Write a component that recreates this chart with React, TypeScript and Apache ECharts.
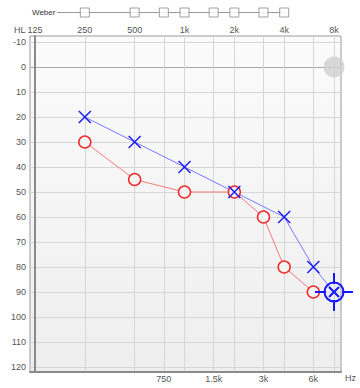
import React, { useEffect, useRef } from 'react';
import * as echarts from 'echarts';

// Frequency axis (Hz)
const octaveFreqs = [125, 250, 500, 1000, 2000, 4000, 8000];
const octaveLabels = ['125', '250', '500', '1k', '2k', '4k', '8k'];
const midFreqs = [750, 1500, 3000, 6000];
const midLabels = ['750', '1.5k', '3k', '6k'];
const gridFreqs = [125, 250, 500, 750, 1000, 1500, 2000, 3000, 4000, 6000, 8000];

// Hearing level axis (dB HL)
const hlMin = -10;
const hlMax = 120;
const hlStep = 10;

// Blue (X) series
const blueFreqs = [250, 500, 1000, 2000, 4000, 6000, 8000];
const blueHL = [20, 30, 40, 50, 60, 80, 90];

// Red (O) series
const redFreqs = [250, 500, 1000, 2000, 3000, 4000, 6000];
const redHL = [30, 45, 50, 50, 60, 80, 90];

// Grey marker
const greyFreqs = [8000];
const greyHL = [0];

// Weber row
const weberFreqs = [250, 500, 750, 1000, 1500, 2000, 3000, 4000];

const oct = (f: number) => Math.log2(f / 125);
const FONT = 'Liberation Sans, Arial, sans-serif';
const xMin = -0.1;
const xMax = 6.14;

const labelFor = (freqs: number[], labels: string[]) => (v: number) => {
  const i = freqs.findIndex((f) => Math.abs(oct(f) - v) < 1e-6);
  return i >= 0 ? labels[i] : '';
};

const xSymbol = 'path://M0,0L12,12M12,0L0,12';
const bigSymbol =
  'path://M28.5,19A9.5,9.5,0,1,1,9.5,19A9.5,9.5,0,1,1,28.5,19Z' +
  'M0,19L11,19M27,19L38,19M19,0L19,11M19,27L19,38' +
  'M14,14L24,24M24,14L14,24';

export default function App() {
  const ref = useRef<HTMLDivElement>(null);

  useEffect(() => {
    if (!ref.current) return;
    const chart = echarts.init(ref.current, null, { renderer: 'svg' });

    const hlCount = (hlMax - hlMin) / hlStep + 1;
    const splitColors: string[] = [];
    for (let i = 0; i < hlCount; i++) {
      splitColors.push(hlMin + i * hlStep === 0 ? '#a9a9a9' : '#d6d6d6');
    }

    const blueData: any[] = blueFreqs.map((f, i) => {
      const item: any = { value: [oct(f), blueHL[i]] };
      if (i === blueFreqs.length - 1) {
        item.symbol = bigSymbol;
        item.symbolSize = 38;
        item.itemStyle = { borderColor: '#1717ff', borderWidth: 2, color: 'rgba(0,0,0,0)' };
      }
      return item;
    });

    const option: any = {
      animation: false,
      textStyle: { fontFamily: FONT },
      grid: [
        // data grid
        { left: 30, right: 19, top: 42, bottom: 21, show: false },
        // weber row
        { left: 30, right: 19, top: 8, height: 9 },
        // frame
        {
          left: 30,
          right: 19,
          top: 36,
          bottom: 16,
          show: true,
          borderColor: '#9a9a9a',
          borderWidth: 1,
          backgroundColor: {
            type: 'linear',
            x: 0,
            y: 0,
            x2: 0,
            y2: 1,
            colorStops: [
              { offset: 0, color: '#fbfbfb' },
              { offset: 1, color: '#eeeeee' },
            ],
          },
        },
      ],
      xAxis: [
        {
          gridIndex: 0,
          type: 'value',
          position: 'top',
          min: xMin,
          max: xMax,
          axisLine: { show: false },
          axisTick: { show: false, customValues: octaveFreqs.map(oct) },
          axisLabel: {
            customValues: octaveFreqs.map(oct),
            formatter: labelFor(octaveFreqs, octaveLabels),
            fontSize: 9,
            color: '#555',
            margin: 8,
            fontFamily: FONT,
            showMinLabel: true,
            showMaxLabel: true,
          },
          splitLine: { show: false },
        },
        { gridIndex: 1, type: 'value', min: xMin, max: xMax, show: false },
        {
          gridIndex: 2,
          type: 'value',
          position: 'bottom',
          min: xMin,
          max: xMax,
          axisLine: { show: true, lineStyle: { color: '#8a8a8a', width: 2 } },
          axisTick: { show: false, customValues: gridFreqs.map(oct) },
          axisLabel: {
            customValues: midFreqs.map(oct),
            formatter: labelFor(midFreqs, midLabels),
            fontSize: 9,
            color: '#555',
            margin: 2,
            fontFamily: FONT,
          },
          splitLine: { show: true, lineStyle: { color: '#d6d6d6', width: 1 } },
        },
      ],
      yAxis: [
        {
          gridIndex: 0,
          type: 'value',
          inverse: true,
          min: hlMin,
          max: hlMax,
          interval: hlStep,
          axisLine: { show: false },
          axisTick: { show: false },
          axisLabel: {
            fontSize: 9,
            color: '#555',
            margin: 4,
            fontFamily: FONT,
            showMinLabel: true,
            showMaxLabel: true,
          },
          splitLine: {
            show: true,
            showMinLine: true,
            showMaxLine: true,
            lineStyle: { color: splitColors, width: 1 },
          },
        },
        { gridIndex: 1, type: 'value', min: 0, max: 1, show: false },
        {
          gridIndex: 2,
          type: 'value',
          min: 0,
          max: 1,
          axisLine: { show: true, lineStyle: { color: '#8a8a8a', width: 2 } },
          axisTick: { show: false },
          axisLabel: { show: false },
          splitLine: { show: false },
        },
      ],
      graphic: [
        {
          type: 'text',
          left: 14,
          top: 25,
          style: { text: 'HL', fill: '#555', font: `9px ${FONT}` },
        },
        {
          type: 'text',
          left: 345,
          top: 373,
          style: { text: 'Hz', fill: '#555', font: `9px ${FONT}` },
        },
        {
          type: 'text',
          left: 32,
          top: 8,
          style: { text: 'Weber', fill: '#333', font: `8px ${FONT}` },
        },
        {
          type: 'line',
          shape: { x1: 57, y1: 12.5, x2: 283, y2: 12.5 },
          style: { stroke: '#9a9a9a', lineWidth: 1 },
        },
      ],
      series: [
        {
          type: 'scatter',
          xAxisIndex: 1,
          yAxisIndex: 1,
          data: weberFreqs.map((f) => [oct(f), 0.5]),
          symbol: 'rect',
          symbolSize: 9,
          itemStyle: { color: '#ffffff', borderColor: '#8a8a8a', borderWidth: 1 },
          silent: true,
        },
        {
          type: 'scatter',
          xAxisIndex: 0,
          yAxisIndex: 0,
          data: greyFreqs.map((f, i) => [oct(f), greyHL[i]]),
          symbol: 'circle',
          symbolSize: 21,
          itemStyle: { color: '#d0d0d0' },
          clip: false,
        },
        {
          type: 'line',
          xAxisIndex: 0,
          yAxisIndex: 0,
          data: redFreqs.map((f, i) => [oct(f), redHL[i]]),
          symbol: 'circle',
          symbolSize: 12,
          showAllSymbol: true,
          itemStyle: { color: '#f4f4f4', borderColor: '#ee2a2a', borderWidth: 1.5 },
          lineStyle: { color: '#f37a7a', width: 1 },
          clip: false,
        },
        {
          type: 'line',
          xAxisIndex: 0,
          yAxisIndex: 0,
          data: blueData,
          symbol: xSymbol,
          symbolSize: 12,
          showAllSymbol: true,
          itemStyle: { color: 'rgba(0,0,0,0)', borderColor: '#1c1cf0', borderWidth: 1.5 },
          lineStyle: { color: '#7a7aff', width: 1 },
          clip: false,
        },
      ],
    };

    chart.setOption(option);
    return () => chart.dispose();
  }, []);

  return (
    <div
      ref={ref}
      style={{ position: 'fixed', left: 0, top: 0, width: 360, height: 388, background: '#fff' }}
    />
  );
}
